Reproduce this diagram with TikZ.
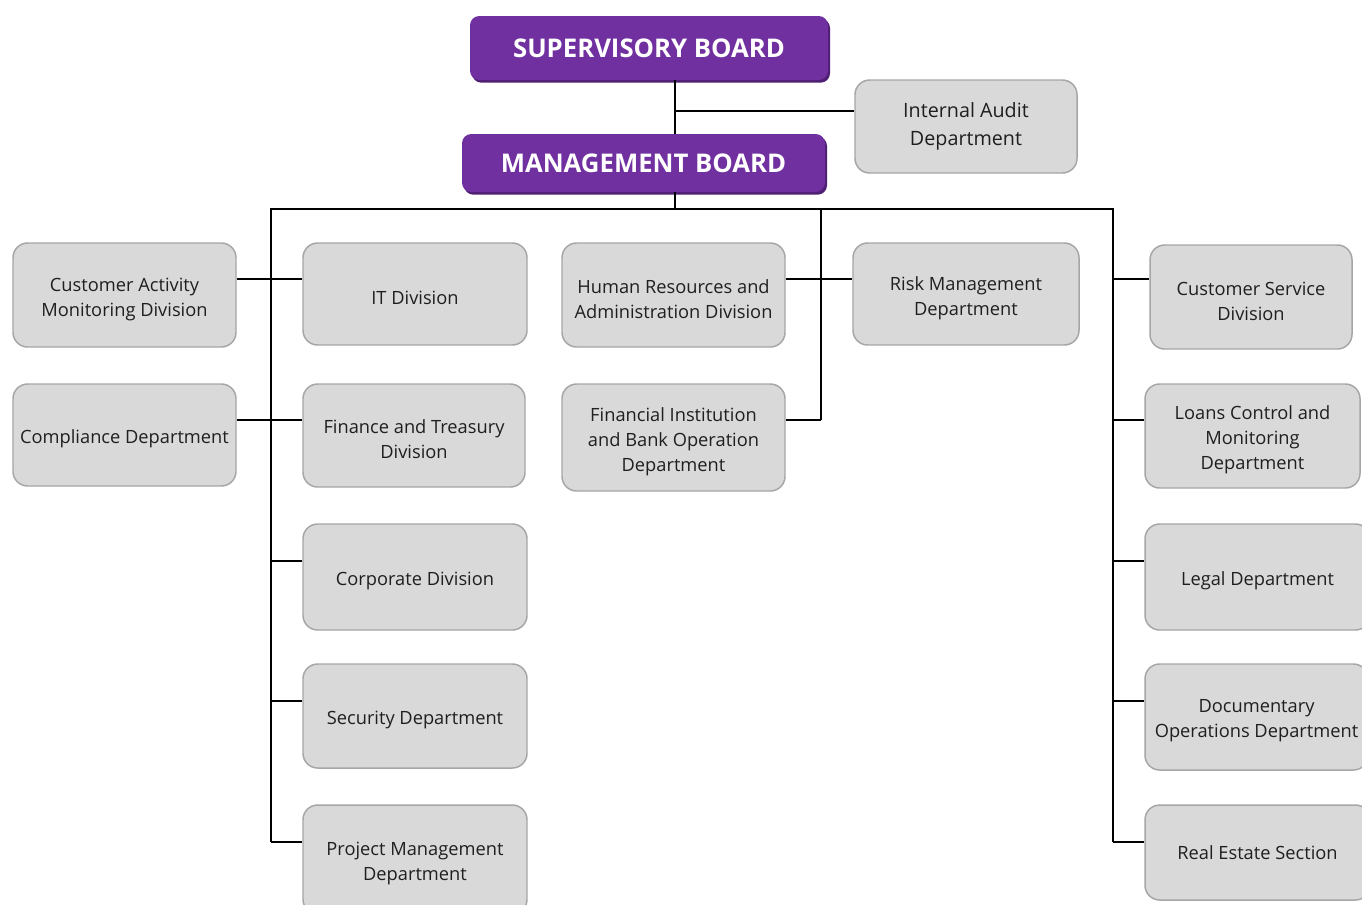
\documentclass[tikz,border=0pt]{standalone}
\usepackage{fontspec}
\setmainfont{Open Sans}
\usetikzlibrary{fit,shadows}
\definecolor{boxfill}{HTML}{D9D9D9}
\definecolor{boxline}{HTML}{A6A6A6}
\definecolor{board}{HTML}{7030A0}
\definecolor{boardshade}{HTML}{4E1F72}
\tikzset{
  unit box/.style={rounded corners=11pt, fill=boxfill, draw=boxline, line width=1.1pt,
     inner sep=0pt},
  plain text/.style={inner sep=0pt, align=center, font=\fontsize{13.7}{18.75}\selectfont, text=black!88},
  unit text/.style={plain text, yshift=-3pt},
  audit text/.style={plain text, font=\fontsize{14.8}{21}\selectfont},
  board box/.style={rounded corners=7pt, fill=board, draw=none, inner sep=0pt,
     drop shadow={shadow xshift=1.5pt, shadow yshift=-2pt, fill=boardshade, opacity=1}},
  board text/.style={inner sep=0pt, font=\fontsize{19.3}{22}\selectfont\bfseries, text=white},
  conn/.style={draw=black, line width=1.5pt},
}
\newcommand\unitbox[5][unit text]{%
  \node[unit box, fit={#3 #4}] (#2) {};
  \node[#1] at (#2.center) (#2-t) {#5};}
\begin{document}
\begin{tikzpicture}[x=0.75pt,y=-0.75pt]
\clip (0,0) rectangle (1362,904);
\useasboundingbox (0,0) rectangle (1362,904);
\fill[white] (0,0) rectangle (1362,904);

% boards
\node[board box, fit={(470,16) (828,80)}] (sb) {};
\node[board text] at (sb.center) (sb-t) {SUPERVISORY BOARD};
\node[board box, fit={(462,134) (825,192)}] (mb) {};
\node[board text] at (mb.center) (mb-t) {MANAGEMENT BOARD};

\unitbox[audit text]{ia}{(855,80)}{(1077,173)}{Internal Audit\\Department}

% column A
\unitbox{ca}{(13,243)}{(236,347)}{Customer Activity\\Monitoring Division}
\unitbox{cd}{(13,384)}{(236,486)}{Compliance Department}
% column B
\unitbox{it}{(303,243)}{(527,345)}{IT Division}
\unitbox{ft}{(303,384)}{(525,487)}{Finance and Treasury\\Division}
\unitbox{cp}{(303,524)}{(527,630)}{Corporate Division}
\unitbox{sd}{(303,664)}{(527,768)}{Security Department}
\unitbox{pm}{(303,805)}{(527,914)}{Project Management\\Department}
% column C
\unitbox{hr}{(562,243)}{(785,347)}{Human Resources and\\Administration Division}
\unitbox{fi}{(562,384)}{(785,491)}{Financial Institution\\and Bank Operation\\Department}
% column D
\unitbox{rm}{(853,243)}{(1079,345)}{Risk Management\\Department}
% column E
\unitbox{cs}{(1150,245)}{(1352,349)}{Customer Service\\Division}
\unitbox{lc}{(1145,384)}{(1360,488)}{Loans Control and\\Monitoring\\Department}
\unitbox{ld}{(1145,524)}{(1370,630)}{Legal Department}
\unitbox{dd}{(1145,664)}{(1368,770)}{Documentary\\Operations Department}
\unitbox[plain text]{re}{(1145,805)}{(1370,900)}{Real Estate Section}

% coordinates
\coordinate (tp) at (675,111);
\coordinate (bl) at (271,209);
\coordinate (bc) at (821,209);
\coordinate (br) at (1113,209);
\coordinate (r1) at (0,279);
\coordinate (r2) at (0,420);
\coordinate (r3) at (0,561);
\coordinate (r4) at (0,701);
\coordinate (r5) at (0,842);

% connectors
\draw[conn] (sb.south -| tp) -- (mb.north -| tp);
\draw[conn] (tp) -- (ia.west |- tp);
\draw[conn] (mb.south -| tp) -- (tp |- bl);
\draw[conn] (bl |- r5) -- (bl) -- (br) -- (br |- r5);
\draw[conn] (bc) -- (bc |- r2);

\draw[conn] (ca.east |- r1) -- (it.west |- r1);
\draw[conn] (cd.east |- r2) -- (ft.west |- r2);
\draw[conn] (bl |- r3) -- (cp.west |- r3);
\draw[conn] (bl |- r4) -- (sd.west |- r4);
\draw[conn] (bl |- r5) -- (pm.west |- r5);

\draw[conn] (hr.east |- r1) -- (rm.west |- r1);
\draw[conn] (fi.east |- r2) -- (bc |- r2);

\draw[conn] (br |- r1) -- (cs.west |- r1);
\draw[conn] (br |- r2) -- (lc.west |- r2);
\draw[conn] (br |- r3) -- (ld.west |- r3);
\draw[conn] (br |- r4) -- (dd.west |- r4);
\draw[conn] (br |- r5) -- (re.west |- r5);
\end{tikzpicture}
\end{document}
